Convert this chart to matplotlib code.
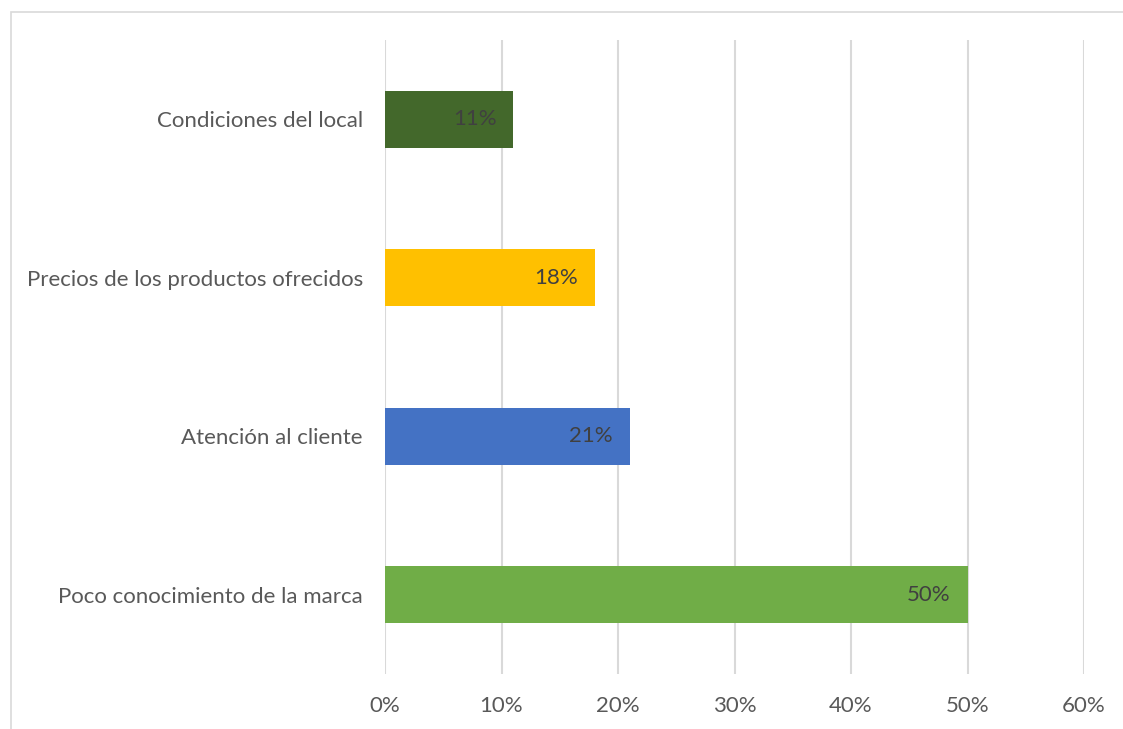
import matplotlib
matplotlib.use("Agg")
import matplotlib.pyplot as plt
from matplotlib.patches import Rectangle
from matplotlib.ticker import FuncFormatter

categories = ["Poco conocimiento de la marca", "Atención al cliente",
              "Precios de los productos ofrecidos", "Condiciones del local"]
values = [0.50, 0.21, 0.18, 0.11]
colors = ["#70AD47", "#4472C4", "#FFC000", "#43682B"]
xticks = [0, 0.1, 0.2, 0.3, 0.4, 0.5, 0.6]

plt.rcParams['font.family'] = ['Lato', 'DejaVu Sans']

fig = plt.figure(figsize=(11.23, 7.29), dpi=100)
ax = fig.add_axes([385/1123, 1-674/729, (1084-385)/1123, (674-40)/729])

# outer chart border (only top and left visible in the reference)
fig.patches.append(Rectangle((11.5/1123, -0.05), 1.1, 1.05 - 11.5/729,
                             transform=fig.transFigure, fill=False,
                             edgecolor="#D9D9D9", linewidth=1.2))

y = list(range(len(categories)))
ax.barh(y, values, height=0.36, color=colors, zorder=3)
for yi, v in zip(y, values):
    ax.annotate(f"{round(v*100)}%", xy=(v, yi), xytext=(-12, 0),
                textcoords="offset points", ha="right", va="center",
                fontsize=16, color="#404040", zorder=4)
ax.set_xlim(0, 0.6)
ax.set_ylim(-0.5, len(categories) - 0.5)
ax.set_xticks(xticks)
ax.xaxis.set_major_formatter(FuncFormatter(lambda v, p: f"{round(v*100)}%"))
ax.set_yticks(y)
ax.set_yticklabels(categories)
ax.grid(axis="x", color="#D9D9D9", linewidth=1.5, zorder=0)
for s in ax.spines.values():
    s.set_visible(False)
ax.tick_params(axis="both", length=0, labelsize=16, labelcolor="#595959")
ax.tick_params(axis="x", pad=16)
ax.tick_params(axis="y", pad=16)

fig.savefig("out.png", dpi=100)
